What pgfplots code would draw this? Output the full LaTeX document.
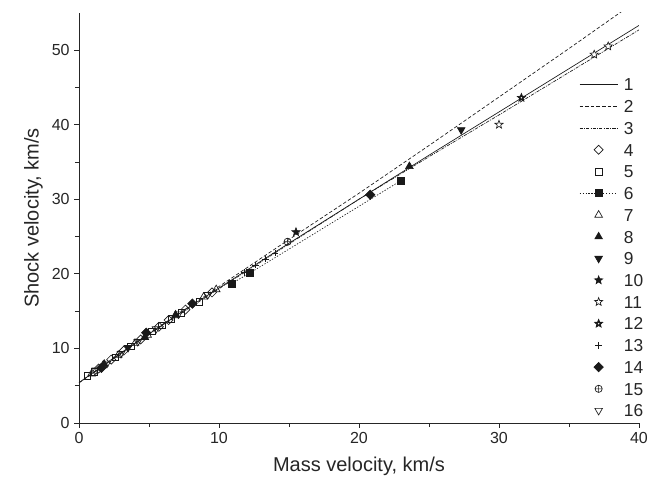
\documentclass[border=0pt]{standalone}
\usepackage{fontspec}
\setmainfont{Liberation Sans}
\usepackage{pgfplots}
\pgfplotsset{compat=1.18}
\usetikzlibrary{plotmarks}

\pgfdeclareplotmark{fstar}{%
  \pgfpathmoveto{\pgfpointpolar{90}{\pgfplotmarksize}}%
  \pgfpathlineto{\pgfpointpolar{126}{0.42\pgfplotmarksize}}%
  \pgfpathlineto{\pgfpointpolar{162}{\pgfplotmarksize}}%
  \pgfpathlineto{\pgfpointpolar{198}{0.42\pgfplotmarksize}}%
  \pgfpathlineto{\pgfpointpolar{234}{\pgfplotmarksize}}%
  \pgfpathlineto{\pgfpointpolar{270}{0.42\pgfplotmarksize}}%
  \pgfpathlineto{\pgfpointpolar{306}{\pgfplotmarksize}}%
  \pgfpathlineto{\pgfpointpolar{342}{0.42\pgfplotmarksize}}%
  \pgfpathlineto{\pgfpointpolar{18}{\pgfplotmarksize}}%
  \pgfpathlineto{\pgfpointpolar{54}{0.42\pgfplotmarksize}}%
  \pgfpathclose\pgfusepathqfillstroke}
\pgfdeclareplotmark{ostar}{%
  \pgfpathmoveto{\pgfpointpolar{90}{\pgfplotmarksize}}%
  \pgfpathlineto{\pgfpointpolar{126}{0.42\pgfplotmarksize}}%
  \pgfpathlineto{\pgfpointpolar{162}{\pgfplotmarksize}}%
  \pgfpathlineto{\pgfpointpolar{198}{0.42\pgfplotmarksize}}%
  \pgfpathlineto{\pgfpointpolar{234}{\pgfplotmarksize}}%
  \pgfpathlineto{\pgfpointpolar{270}{0.42\pgfplotmarksize}}%
  \pgfpathlineto{\pgfpointpolar{306}{\pgfplotmarksize}}%
  \pgfpathlineto{\pgfpointpolar{342}{0.42\pgfplotmarksize}}%
  \pgfpathlineto{\pgfpointpolar{18}{\pgfplotmarksize}}%
  \pgfpathlineto{\pgfpointpolar{54}{0.42\pgfplotmarksize}}%
  \pgfpathclose\pgfusepathqstroke}
\pgfdeclareplotmark{dstar}{%
  \pgfpathmoveto{\pgfpointpolar{90}{\pgfplotmarksize}}%
  \pgfpathlineto{\pgfpointpolar{126}{0.45\pgfplotmarksize}}%
  \pgfpathlineto{\pgfpointpolar{162}{\pgfplotmarksize}}%
  \pgfpathlineto{\pgfpointpolar{198}{0.45\pgfplotmarksize}}%
  \pgfpathlineto{\pgfpointpolar{234}{\pgfplotmarksize}}%
  \pgfpathlineto{\pgfpointpolar{270}{0.45\pgfplotmarksize}}%
  \pgfpathlineto{\pgfpointpolar{306}{\pgfplotmarksize}}%
  \pgfpathlineto{\pgfpointpolar{342}{0.45\pgfplotmarksize}}%
  \pgfpathlineto{\pgfpointpolar{18}{\pgfplotmarksize}}%
  \pgfpathlineto{\pgfpointpolar{54}{0.45\pgfplotmarksize}}%
  \pgfpathclose\pgfusepathqfillstroke
  \pgfpathcircle{\pgfpointorigin}{0.18\pgfplotmarksize}%
  \pgfsetfillcolor{white}\pgfusepathqfill}

\begin{document}
\begin{tikzpicture}
\begin{axis}[
  scale only axis, width=420pt, height=307.7pt,
  xmin=0, xmax=40, ymin=0, ymax=55,
  axis x line*=bottom, axis y line*=left,
  axis line style={line width=0.7pt, black!85},
  xtick={0,10,...,40}, ytick={0,10,...,50},
  minor x tick num=1, minor y tick num=1,
  tick align=outside, major tick length=3.5pt, minor tick length=3pt,
  tick style={line width=0.6pt, black!85},
  ticklabel style={font=\fontsize{12}{14}\selectfont, text=black!85},
  /pgf/number format/assume math mode=true,
  xlabel={Mass velocity, km/s}, ylabel={Shock velocity, km/s},
  label style={font=\fontsize{15}{18}\selectfont, text=black!85},
  xlabel style={yshift=-3pt},
  every axis plot/.append style={line width=0.5pt, black!90},
  legend cell align=left,
  legend style={at={(rel axis cs:0.893,0.841)}, anchor=north west, draw=none, fill=none,
    inner sep=0pt, row sep=6.8pt, column sep=4.5pt,
    nodes={inner sep=0pt, text height=9.5pt, text depth=0pt},
    font=\fontsize{13}{15}\selectfont, text=black!85},
  legend image code/.code={\draw[mark repeat=2, mark phase=2, #1] plot coordinates {(0cm,0cm) (0.5cm,0cm) (1cm,0cm)};},
]
\coordinate (BL) at (rel axis cs:0,0);
% 1 solid
\addplot[solid] coordinates {(0,5.4) (2,8.1) (4,10.7) (6,13.2) (8,15.7) (10,18.1) (12,20.5) (15,24.1) (20,30.0) (25,35.9) (30,41.7) (35,47.5) (40,53.3)};
\addlegendentry{1}
% 2 dashed
\addplot[dash pattern=on 2.6pt off 1.6pt] coordinates {(0,5.4) (5,12.0) (10,18.3) (15,24.6) (20,30.8) (25,37.2) (30,43.7) (35,50.2) (40,56.8)};
\addlegendentry{2}
% 3 dash-dot
\addplot[dash pattern=on 2.4pt off 0.9pt on 0.7pt off 0.9pt] coordinates {(0,5.4) (5,11.9) (10,18.0) (15,24.0) (20,30.0) (25,35.7) (30,41.3) (35,47.0) (40,52.7)};
\addlegendentry{3}
% 4 open diamond
\addplot[only marks, mark=square, mark size=2.4pt, mark options={rotate=45, solid, fill=white}] coordinates {(1.4,7.3) (2.3,8.5) (3.2,9.7) (4.4,11.2) (5.7,12.9) (6.4,13.8) (7.6,15.2) (9.5,17.5)};
\addlegendentry{4}
% 5 open square
\addplot[only marks, mark=square, mark size=2.5pt, mark options={solid}] coordinates {(0.6,6.3) (1.1,6.9) (2.6,8.8) (3.7,10.3) (5.2,12.3) (5.9,13.1) (6.6,14.0) (7.3,14.8) (8.6,16.2)};
\addlegendentry{5}
% 6 filled square with dotted line
\addplot[dash pattern=on 1pt off 1.2pt, mark=square*, mark size=2.6pt, mark options={solid}] coordinates {(10.9,18.7) (12.2,20.1) (23.0,32.5)};
\addlegendentry{6}
% 7 open up triangle
\addplot[only marks, mark=triangle, mark size=3.3pt, mark options={solid}] coordinates {(0.9,6.6) (1.7,7.7) (2.8,9.1) (4.0,10.7) (4.9,11.8) (6.9,14.4) (8.9,16.9) (9.8,17.9)};
\addlegendentry{7}
% 8 filled up triangle
\addplot[only marks, mark=triangle*, mark size=3.3pt, mark options={solid}] coordinates {(1.8,7.9) (4.7,11.5) (6.9,14.5) (23.6,34.4)};
\addlegendentry{8}
% 9 filled down triangle
\addplot[only marks, mark=triangle*, mark size=3.3pt, mark options={solid, rotate=180}] coordinates {(3.5,10.1) (27.3,39.3)};
\addlegendentry{9}
% 10 filled star
\addplot[only marks, mark=fstar, mark size=3.2pt, mark options={solid}] coordinates {(15.5,25.6)};
\addlegendentry{10}
% 11 open star
\addplot[only marks, mark=ostar, mark size=3.2pt, mark options={solid}] coordinates {(30.0,40.0)};
\addlegendentry{11}
% 12 star with centre
\addplot[only marks, mark=dstar, mark size=3.2pt, mark options={solid}] coordinates {(31.6,43.6) (36.8,49.4) (37.8,50.5)};
\addlegendentry{12}
% 13 plus
\addplot[only marks, mark=+, mark size=2.5pt, mark options={solid}] coordinates {(11.8,20.2) (12.6,21.2) (13.3,22.0) (14.0,22.8)};
\addlegendentry{13}
% 14 filled diamond
\addplot[only marks, mark=square*, mark size=2.5pt, mark options={rotate=45, solid}] coordinates {(1.6,7.4) (4.8,12.1) (8.1,16.0) (20.8,30.6)};
\addlegendentry{14}
% 15 oplus
\addplot[only marks, mark=oplus, mark size=2.7pt, mark options={solid}] coordinates {(14.9,24.3)};
\addlegendentry{15}
% 16 open down triangle
\addplot[only marks, mark=triangle, mark size=3.3pt, mark options={solid, rotate=180}] coordinates {(1.2,7.1) (2.0,8.0) (3.0,9.3) (4.2,10.9) (5.5,12.6) (7.1,14.6) (9.2,17.2)};
\addlegendentry{16}
\end{axis}
\pgfresetboundingbox
\path[use as bounding box] ([shift={(-59.25pt,-48pt)}]BL) rectangle ([shift={(431.25pt,317.25pt)}]BL);
\end{tikzpicture}
\end{document}
